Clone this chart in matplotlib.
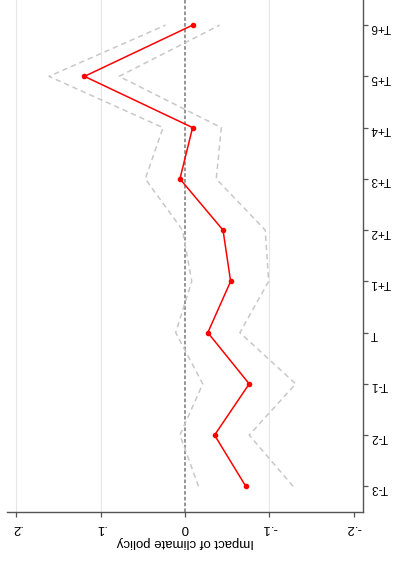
import matplotlib.pyplot as plt
import numpy as np

plt.rcParams['font.family'] = ['Liberation Sans', 'DejaVu Sans']

periods = ['T-3', 'T-2', 'T-1', 'T', 'T+1', 'T+2', 'T+3', 'T+4', 'T+5', 'T+6']
coef = [-0.072, -0.035, -0.076, -0.027, -0.054, -0.045, 0.006, -0.009, 0.119, -0.009]
ci_upper = [-0.016, 0.006, -0.021, 0.011, -0.008, 0.003, 0.047, 0.026, 0.161, 0.023]
ci_lower = [-0.128, -0.076, -0.131, -0.065, -0.099, -0.095, -0.037, -0.043, 0.078, -0.041]
x_ticks = [0.2, 0.1, 0, -0.1, -0.2]
x_tick_labels = ['.2', '.1', '0', '-.1', '-.2']

fig = plt.figure(figsize=(3.94, 5.63), dpi=100)
ax = fig.add_axes([7 / 394, 51 / 563, 356 / 394, 512 / 563])

pos = np.arange(len(periods))

for v in [0.2, 0.1, -0.1]:
    ax.axvline(v, color='#e6e6e6', lw=0.8, zorder=0)
ax.axvline(0, color='#8c8c8c', lw=1.3, ls=(0, (2, 1.2)), zorder=1)

ax.plot(ci_upper, pos, color='#c8c8c8', lw=1.1, ls=(0, (3.5, 2.5)), zorder=2)
ax.plot(ci_lower, pos, color='#c8c8c8', lw=1.1, ls=(0, (3.5, 2.5)), zorder=2)
ax.plot(coef, pos, color='red', lw=1.1, marker='o', ms=3, zorder=3)

ax.set_xlim(0.2107, -0.2107)
ax.set_ylim(-0.5, 9.49)

ax.set_xticks(x_ticks)
ax.set_xticklabels(x_tick_labels, rotation=180, fontsize=9.5)
ax.yaxis.tick_right()
ax.set_yticks(pos)
ax.set_yticklabels(periods, rotation=180, fontsize=8.5)
ax.set_xlabel('Impact of climate policy', rotation=180, fontsize=9.5, labelpad=2)

for s in ['top', 'left']:
    ax.spines[s].set_visible(False)
for s in ['bottom', 'right']:
    ax.spines[s].set_color('#555555')
    ax.spines[s].set_linewidth(1.0)
ax.tick_params(colors='#555555', labelcolor='black', length=3.5, width=0.9)
ax.tick_params(axis='y', pad=2)

plt.savefig('out.png', dpi=100)
